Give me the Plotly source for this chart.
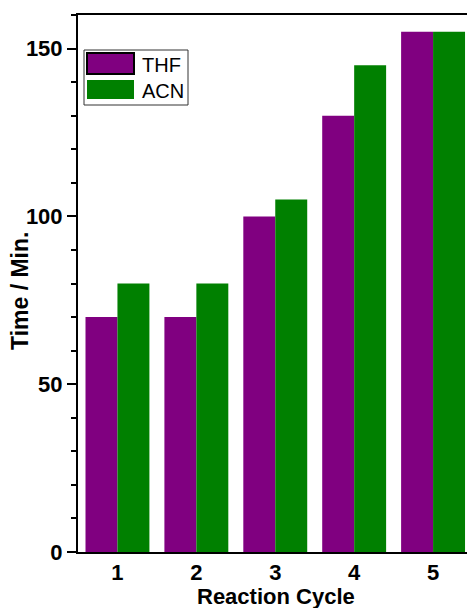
import plotly.graph_objects as go

# Reaction time per cycle for two solvents
cycles = [1, 2, 3, 4, 5]
thf_time = [70, 70, 100, 130, 155]
acn_time = [80, 80, 105, 145, 155]
y_ticks = [0, 50, 100, 150]

PURPLE = "#800080"
GREEN = "#008000"
FONT = "Liberation Sans, Arial, sans-serif"

W, H = 467, 608
ML, MR, MT, MB = 78, 0, 15, 56
PW, PH = W - ML - MR, H - MT - MB


def px(x):
    return (x - ML) / PW


def py(y):
    return (H - MB - y) / PH


fig = go.Figure()
fig.add_trace(go.Bar(x=cycles, y=thf_time, name="THF",
                     marker=dict(color=PURPLE, line=dict(width=0))))
fig.add_trace(go.Bar(x=cycles, y=acn_time, name="ACN",
                     marker=dict(color=GREEN, line=dict(width=0))))

fig.update_layout(
    width=W, height=H,
    margin=dict(l=ML, r=MR, t=MT, b=MB, pad=0),
    plot_bgcolor="white", paper_bgcolor="white",
    barmode="group", bargap=0.19, bargroupgap=0,
    showlegend=False,
    font=dict(family=FONT, color="black"),
)

fig.update_xaxes(
    range=[0.5, 5.43], tickvals=cycles, ticktext=[str(c) for c in cycles],
    ticks="", showline=True, linecolor="black", linewidth=2, mirror=True,
    showgrid=False, zeroline=False,
    tickfont=dict(family=FONT, size=22, weight="bold", color="black"),
)
fig.update_yaxes(
    range=[0, 160], tickvals=y_ticks,
    ticks="outside", ticklen=9, tickwidth=2, tickcolor="black",
    minor=dict(dtick=10, ticks="outside", ticklen=5, tickwidth=2, tickcolor="black"),
    showline=True, linecolor="black", linewidth=2,
    showgrid=False, zeroline=False,
    tickfont=dict(family=FONT, size=22, weight="bold", color="black"),
)

# Axis titles
fig.add_annotation(text="Time / Min.", xref="paper", yref="paper",
                   x=px(20), y=py(291), xanchor="center", yanchor="middle",
                   textangle=-90, showarrow=False,
                   font=dict(family=FONT, size=23, weight="bold", color="black"))
fig.add_annotation(text="Reaction Cycle", xref="paper", yref="paper",
                   x=px(276), y=py(583), xanchor="center", yanchor="top",
                   showarrow=False, borderpad=0,
                   font=dict(family=FONT, size=22, weight="bold", color="black"))

# Legend box with wide swatches
shapes = [
    dict(type="rect", xref="paper", yref="paper",
         x0=px(84), x1=px(188), y0=py(105), y1=py(50),
         line=dict(color="#333333", width=1), fillcolor="white"),
    dict(type="rect", xref="paper", yref="paper",
         x0=px(87), x1=px(134), y0=py(74), y1=py(53),
         line=dict(color="black", width=2), fillcolor=PURPLE),
    dict(type="rect", xref="paper", yref="paper",
         x0=px(87), x1=px(134), y0=py(99), y1=py(80),
         line=dict(width=0), fillcolor=GREEN),
]
fig.update_layout(shapes=shapes)
for label, yc in [("THF", 64.5), ("ACN", 90.5)]:
    fig.add_annotation(text=label, xref="paper", yref="paper",
                       x=px(140), y=py(yc), xanchor="left", yanchor="middle",
                       showarrow=False,
                       font=dict(family=FONT, size=20, color="black"))

fig.write_html("out.html")
